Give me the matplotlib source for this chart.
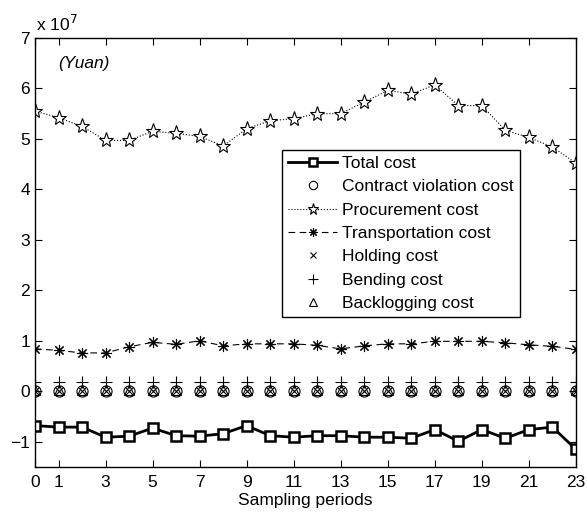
from matplotlib import pyplot as plt
import numpy as np

periods = list(range(24))

# values in units of 1e7 Yuan
total_cost = [-0.68, -0.71, -0.71, -0.91, -0.89, -0.73, -0.88, -0.89, -0.84, -0.68, -0.88, -0.91,
              -0.88, -0.88, -0.91, -0.91, -0.93, -0.76, -0.99, -0.76, -0.93, -0.76, -0.71, -1.15]
contract_cost = [0.0] * 24
procurement_cost = [5.55, 5.42, 5.25, 4.97, 4.97, 5.15, 5.11, 5.05, 4.86, 5.20, 5.36, 5.40,
                    5.50, 5.50, 5.73, 5.96, 5.89, 6.07, 5.66, 5.66, 5.17, 5.03, 4.84, 4.52]
transport_cost = [0.84, 0.81, 0.76, 0.76, 0.88, 0.97, 0.93, 1.00, 0.90, 0.94, 0.94, 0.94,
                  0.91, 0.84, 0.90, 0.94, 0.94, 0.99, 0.99, 0.99, 0.96, 0.92, 0.89, 0.83]
holding_cost = [0.0] * 24
bending_cost = [0.18] * 24
backlog_cost = [0.02] * 24

xticks = [0, 1, 3, 5, 7, 9, 11, 13, 15, 17, 19, 21, 23]
yticks = [-1, 0, 1, 2, 3, 4, 5, 6, 7]


def main():
    plt.rcParams['font.family'] = ['Liberation Sans', 'DejaVu Sans']
    plt.rcParams['axes.unicode_minus'] = True

    fig = plt.figure(figsize=(5.87, 5.13), dpi=100)
    ax = fig.add_axes([0.0596, 0.0897, 0.9215, 0.8363])

    ax.plot(periods, total_cost, color='black', lw=2, marker='s', ms=7.5, mfc='white',
            mew=1.8, label='Total cost')
    ax.plot(periods, contract_cost, color='black', ls='none', marker='o', ms=8,
            mfc='none', mew=0.8, label='Contract violation cost')
    ax.plot(periods, procurement_cost, color='black', ls=':', lw=0.8, marker='*', ms=11,
            mfc='white', mew=0.8, label='Procurement cost')
    ax.plot(periods, transport_cost, color='black', ls=(0, (6, 4)), lw=0.8, marker=(8, 2, 0),
            ms=8, mew=0.8, label='Transportation cost')
    ax.plot(periods, holding_cost, color='black', ls='none', marker='x', ms=6,
            mew=0.8, label='Holding cost')
    ax.plot(periods, bending_cost, color='black', ls='none', marker='+', ms=9,
            mew=0.8, label='Bending cost')
    ax.plot(periods, backlog_cost, color='black', ls='none', marker='^', ms=7,
            mfc='none', mew=0.8, label='Backlogging cost')

    ax.set_xlim(0, 23)
    ax.set_ylim(-1.5, 7)
    ax.set_xticks(xticks)
    ax.set_yticks(yticks)
    ax.tick_params(direction='in', top=True, right=True, labelsize=12.5, length=5, width=0.8)
    ax.tick_params(axis='x', pad=6)
    for s in ax.spines.values():
        s.set_linewidth(1.0)

    ax.set_xlabel('Sampling periods', fontsize=12.5, labelpad=2)
    ax.text(0.05, 7.08, r'x 10$^{7}$', fontsize=12.5, ha='left', va='bottom')
    ax.text(0.043, 0.94, '(Yuan)', transform=ax.transAxes, fontsize=12.5,
            style='italic', ha='left', va='center')

    leg = ax.legend(loc='upper left', bbox_to_anchor=(0.457, 0.739), borderaxespad=0,
                    fontsize=12.5, fancybox=False, edgecolor='black', framealpha=1,
                    handlelength=2.8, labelspacing=0.47, borderpad=0.35, handletextpad=0.3,
                    markerscale=0.75)
    leg.get_frame().set_linewidth(1.0)

    fig.savefig('out.png', dpi=100)


if __name__ == "__main__":
    main()
